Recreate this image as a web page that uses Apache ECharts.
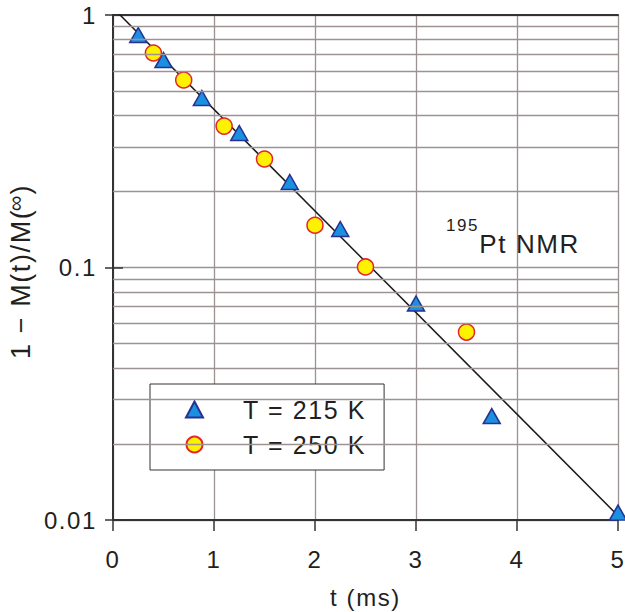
<!DOCTYPE html>
<html><head><meta charset="utf-8">
<script src="https://cdn.jsdelivr.net/npm/echarts@6/dist/echarts.min.js"></script>
<style>
html,body{margin:0;padding:0;background:#fff;}
#chart{width:625px;height:612px;}
#chart svg text{letter-spacing:1.6px;}
</style></head><body><div id="chart"></div>
<script>
// Data
const triName = 'T = 215 K';
const triX = [0.25, 0.5, 0.88, 1.25, 1.75, 2.25, 3.0, 3.75, 5.0];
const triY = [0.833, 0.663, 0.469, 0.341, 0.218, 0.142, 0.072, 0.0258, 0.0107];

const circName = 'T = 250 K';
const circX = [0.4, 0.7, 1.1, 1.5, 2.0, 2.5, 3.5];
const circY = [0.707, 0.553, 0.363, 0.269, 0.147, 0.1005, 0.0555];

const fitX = [0, 5];
const fitY = [1.067, 0.0104];

const xTicks = [0, 1, 2, 3, 4, 5];
const yTicks = [0.01, 0.1, 1];
const yTickLabels = ['0.01', '0.1', '1'];
const yMinor = [0.02, 0.03, 0.04, 0.05, 0.06, 0.07, 0.08, 0.09, 0.2, 0.3, 0.4, 0.5, 0.6, 0.7, 0.8, 0.9];

const FONT = '"Liberation Sans", Arial, sans-serif';
const INK = '#231f20';
const FRAME = '#333333';
const GRIDC = '#9d9292';

const pair = (xs, ys) => xs.map((x, i) => [x, ys[i]]);
const yLabel = v => {
  for (let i = 0; i < yTicks.length; i++) if (Math.abs(Math.log10(v) - Math.log10(yTicks[i])) < 1e-6) return yTickLabels[i];
  return '';
};

const chart = echarts.init(document.getElementById('chart'), null, {renderer: 'svg'});
chart.setOption({
  animation: false,
  backgroundColor: '#ffffff',
  textStyle: {fontFamily: FONT},
  grid: {left: 113, top: 15, width: 505, height: 505, show: false, containLabel: false, outerBoundsMode: 'none'},
  title: {
    left: 446, top: 217, padding: 0,
    text: '{sup|195}{main|Pt NMR}',
    textStyle: {
      fontFamily: FONT, fontWeight: 'normal',
      rich: {
        sup: {fontSize: 17, lineHeight: 17, color: INK, fontWeight: 'normal', verticalAlign: 'top', padding: [0, 5, 0, 0], fontFamily: FONT},
        main: {fontSize: 26, lineHeight: 40, color: INK, fontWeight: 'normal', verticalAlign: 'bottom', fontFamily: FONT}
      }
    }
  },
  legend: {
    orient: 'vertical',
    left: 150, top: 384,
    padding: [13, 32, 13, 35],
    itemGap: 10,
    itemWidth: 17, itemHeight: 16,
    backgroundColor: '#ffffff',
    borderColor: FRAME, borderWidth: 1, borderRadius: 0,
    data: [triName, circName],
    formatter: n => '{sp| }{t|' + n + '}',
    textStyle: {
      fontSize: 25, color: INK, fontFamily: FONT, lineHeight: 25,
      rich: {
        sp: {width: 35, fontSize: 25, lineHeight: 25},
        t: {fontSize: 25, lineHeight: 25, color: INK, fontFamily: FONT}
      }
    }
  },
  xAxis: [{
    type: 'value', min: 0, max: 5, interval: 1, position: 'bottom',
    name: 't (ms)', nameLocation: 'middle', nameGap: 65,
    nameTextStyle: {fontSize: 24, color: INK, fontFamily: FONT},
    axisLine: {show: true, lineStyle: {color: FRAME, width: 2}},
    axisTick: {show: true, inside: false, length: 11, lineStyle: {color: FRAME, width: 1.5}},
    axisLabel: {fontSize: 24, color: INK, margin: 27, fontFamily: FONT, formatter: v => String(v)},
    splitLine: {show: true, lineStyle: {color: GRIDC, width: 1.3}}
  }, {
    type: 'value', min: 0, max: 5, interval: 1, position: 'top',
    axisLine: {show: true, onZero: false, lineStyle: {color: FRAME, width: 2}},
    axisTick: {show: false}, axisLabel: {show: false}, splitLine: {show: false}
  }],
  yAxis: [{
    type: 'log', logBase: 10, min: 0.01, max: 1, position: 'left',
    name: '{m1|1 \u2212 M(t)/M(}{inf|\u221e}{m|)}', nameLocation: 'middle', nameGap: 79,
    nameTextStyle: {
      fontSize: 27, color: INK, fontFamily: FONT,
      rich: {
        m1: {fontSize: 27, lineHeight: 30, color: INK, verticalAlign: 'bottom', fontFamily: FONT, padding: [0, 7, 0, 0]},
        m: {fontSize: 27, lineHeight: 30, color: INK, verticalAlign: 'bottom', fontFamily: FONT},
        inf: {fontSize: 22, lineHeight: 20, color: INK, verticalAlign: 'top', fontFamily: FONT, padding: [0, 1, 0, 0]}
      }
    },
    axisLine: {show: true, lineStyle: {color: FRAME, width: 2}},
    axisTick: {show: true, inside: true, length: 10, lineStyle: {color: FRAME, width: 1.5}},
    axisLabel: {fontSize: 24, color: INK, margin: 16, fontFamily: FONT, formatter: yLabel},
    splitLine: {show: true, lineStyle: {color: GRIDC, width: 1.3}},
    minorTick: {show: false}
  }, {
    type: 'log', logBase: 10, min: 0.01, max: 1, position: 'right',
    axisLine: {show: true, lineStyle: {color: FRAME, width: 2}},
    axisTick: {show: true, inside: true, length: 8, lineStyle: {color: FRAME, width: 1.5}},
    axisLabel: {show: false}, splitLine: {show: false}
  }],
  series: [{
    name: 'minor', type: 'line', data: [], z: 1, silent: true,
    markLine: {
      silent: true, symbol: ['none', 'none'], animation: false,
      label: {show: false},
      lineStyle: {color: GRIDC, width: 1.3, type: 'solid'},
      emphasis: {disabled: true},
      data: yMinor.map(v => ({yAxis: v}))
    }
  }, {
    name: 'fit', type: 'line', data: pair(fitX, fitY), showSymbol: false, symbol: 'none',
    z: 2, silent: true, clip: true,
    lineStyle: {color: '#1a1a1a', width: 1.5}
  }, {
    name: triName, type: 'scatter', data: pair(triX, triY), z: 3,
    symbol: 'triangle', symbolSize: [17, 15],
    itemStyle: {color: '#1b8fe0', borderColor: '#25328f', borderWidth: 1.5, opacity: 1}
  }, {
    name: circName, type: 'scatter', data: pair(circX, circY), z: 4,
    symbol: 'circle', symbolSize: 16,
    itemStyle: {color: '#fff200', borderColor: '#e3242b', borderWidth: 1.5, opacity: 1}
  }]
});
</script></body></html>
